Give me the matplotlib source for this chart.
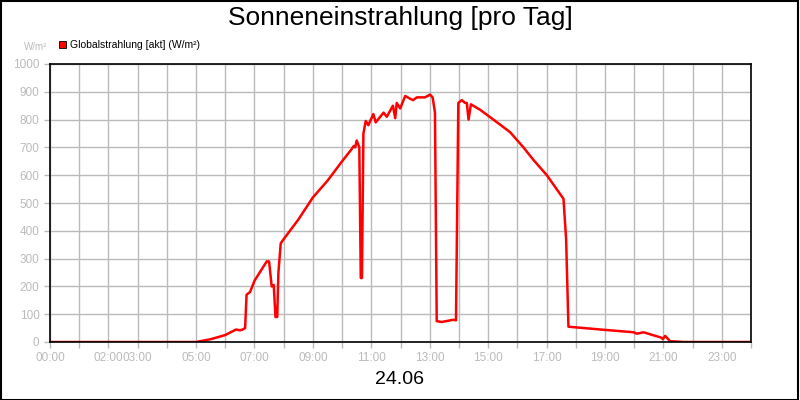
import matplotlib
matplotlib.use("Agg")
import matplotlib.pyplot as plt
from matplotlib.patches import Rectangle

plt.rcParams['font.family'] = ['Liberation Sans', 'DejaVu Sans']

hours = [0, 5.0, 5.5, 6.0, 6.37, 6.5, 6.6, 6.68, 6.73, 6.85, 7.0, 7.42, 7.5, 7.59, 7.66, 7.72, 7.78,
         7.82, 7.90, 8.0, 8.5, 9.0, 9.5, 10.0, 10.3, 10.4, 10.45, 10.50, 10.59, 10.64, 10.68, 10.73,
         10.81, 10.90, 11.07, 11.15, 11.42, 11.53, 11.74, 11.82, 11.87, 11.99, 12.16, 12.33, 12.43,
         12.56, 12.84, 13.01, 13.10, 13.18, 13.24, 13.41, 13.81, 13.90, 13.98, 14.10, 14.21, 14.27,
         14.33, 14.41, 14.73, 15.18, 15.75, 16.21, 16.55, 17.01, 17.58, 17.67, 17.75, 18.84, 19.98,
         20.09, 20.32, 20.95, 20.98, 21.06, 21.23, 21.7, 24.0]
values = [0, 0, 10, 25, 45, 42, 45, 50, 170, 180, 220, 290, 290, 200, 205, 90, 90,
          250, 355, 370, 440, 520, 580, 650, 690, 705, 700, 725, 700, 230, 230, 750,
          795, 780, 820, 790, 825, 810, 850, 805, 860, 840, 885, 875, 870,
          880, 880, 890, 880, 825, 75, 72, 80, 78, 860, 870, 860, 860,
          800, 855, 835, 800, 755, 700, 655, 600, 515, 370, 55, 45, 35,
          30, 35, 15, 10, 22, 3, 0, 0]
tick_hours = list(range(0, 25))
tick_labels = {0: "00:00", 2: "02:00", 3: "03:00", 5: "05:00", 7: "07:00", 9: "09:00", 11: "11:00",
               13: "13:00", 15: "15:00", 17: "17:00", 19: "19:00", 21: "21:00", 23: "23:00"}
y_ticks = list(range(0, 1001, 100))

fig = plt.figure(figsize=(8, 4), dpi=100)
fig.patch.set_facecolor("white")
fig.add_artist(Rectangle((0.001, 0.001), 0.997, 0.997, transform=fig.transFigure,
                         fill=False, edgecolor="black", linewidth=1.5))
ax = fig.add_axes([50/800, 1-342/400, 701/800, 278/400])
ax.plot(hours, values, color="#ff0000", linewidth=1.8)
ax.set_xlim(0, 24)
ax.set_ylim(0, 1000)
ax.set_xticks(tick_hours)
ax.set_xticklabels([tick_labels.get(h, "") for h in tick_hours])
ax.set_yticks(y_ticks)
ax.grid(True, color="#bbbbbb", linewidth=1)
ax.set_axisbelow(True)
ax.tick_params(colors="#bbbbbb", labelcolor="#bbbbbb", labelsize=8.5, length=4, width=1, direction="out")
ax.tick_params(axis="x", pad=3)
for s in ax.spines.values():
    s.set_color("black")
    s.set_linewidth(1.2)

fig.text(0.5, 1-18/400, "Sonneneinstrahlung [pro Tag]", ha="center", va="center", fontsize=19)
fig.text(0.5, 1-380/400, "24.06", ha="center", va="center", fontsize=14)
fig.text(36/800, 1-47/400, "W/m²", ha="center", va="center", fontsize=7, color="#bbbbbb")
fig.add_artist(Rectangle((59/800, 1-48/400), 7/800, 7/400, transform=fig.transFigure,
                         facecolor="#ff0000", edgecolor="black", linewidth=0.6))
fig.text(70/800, 1-44.5/400, "Globalstrahlung [akt] (W/m²)", ha="left", va="center", fontsize=7.5)

fig.savefig("out.png", dpi=100)
